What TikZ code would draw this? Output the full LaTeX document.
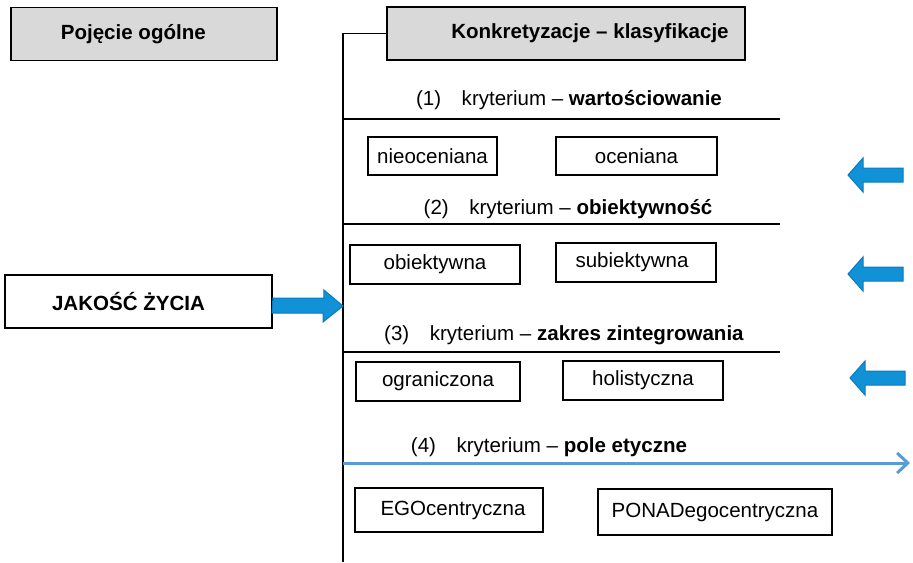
\documentclass[tikz,border=0pt]{standalone}
\usepackage{fontspec}
\setmainfont{Liberation Sans}
\usepackage{xcolor}
\usepackage{tikz}
\usetikzlibrary{calc, arrows.meta}

\definecolor{headgray}{RGB}{217,217,217}
\definecolor{arrowblue}{RGB}{18,146,214}
\definecolor{arrowedge}{RGB}{10,122,192}
\definecolor{lineblue}{RGB}{91,155,213}

\newcommand{\boxfont}{\fontsize{15.4}{18}\selectfont}

\tikzset{
  headbox/.style={draw, fill=headgray, line width=1.4pt, inner sep=0pt, font=\boxfont\bfseries},
  catbox/.style={draw, line width=1.4pt, inner sep=0pt, font=\boxfont},
  crit/.style={inner sep=0.75pt, font=\boxfont},
  rule/.style={line width=1.4pt},
  blockarrow/.style={fill=arrowblue, draw=arrowedge, line width=0.75pt, line join=miter},
  leftarrow/.pic={\path[blockarrow] (0,0) -- (15,-17) -- (15,-7) -- (55,-7) -- (55,7) -- (15,7) -- (15,17) -- cycle;}
}

\begin{document}
\begin{tikzpicture}[x=0.75pt,y=0.75pt,yscale=-1,xscale=1]
\useasboundingbox (0,0) rectangle (913,562);

%Shape: Rectangle (headers)
\node[headbox, minimum width=199.5pt, minimum height=39.75pt] (ogolne) at (144,34) {Pojęcie ogólne\hspace*{16pt}};
\node[headbox, minimum width=268.5pt, minimum height=39.75pt] (konkr) at (566,33.5) {\hspace*{36pt}Konkretyzacje -- klasyfikacje};
%Shape: Rectangle (main notion)
\node[catbox, minimum width=200.25pt, minimum height=39.75pt, font=\boxfont\bfseries] (jakosc) at (138.5,301.5) {JAKOŚĆ ŻYCIA\hspace*{15pt}};

%Straight Lines (spine)
\coordinate (spine end) at (343,562);
\draw[rule] (konkr.west) -| (spine end);
\coordinate (hit) at (343,306);

%Straight Lines (separators)
\coordinate (sep1) at (780,119);
\coordinate (sep2) at (780,224);
\coordinate (sep3) at (780,352);
\draw[rule] (spine end |- sep1) -- (sep1);
\draw[rule] (spine end |- sep2) -- (sep2);
\draw[rule] (spine end |- sep3) -- (sep3);
%Straight Lines (4) with arrow
\coordinate (line4) at (910,463);
\draw[lineblue, line width=2.25pt, -{Straight Barb[length=8pt, width=15pt]}] (spine end |- line4) -- (line4);

% Text Node
\node[crit] (crit1) at (569,100) {(1)\hspace{1em}kryterium -- \textbf{wartościowanie}};
% Text Node
\node[crit] (crit2) at (568,209) {(2)\hspace{1em}kryterium -- \textbf{obiektywność}};
% Text Node
\node[crit] (crit3) at (564,335) {(3)\hspace{1em}kryterium -- \textbf{zakres zintegrowania}};
% Text Node
\node[crit] (crit4) at (549,447) {(4)\hspace{1em}kryterium -- \textbf{pole etyczne}};

%Shape: Rectangle (categories)
\node[catbox, minimum width=96.75pt, minimum height=28.5pt] (nieoc) at (432.5,156) {nieoceniana};
\node[catbox, minimum width=120.75pt, minimum height=28.5pt] (oc) at (636.5,156) {oceniana};
\node[catbox, minimum width=127.5pt, minimum height=29.25pt] (obiekt) at (435,264.5) {obiektywna};
\node[catbox, minimum width=120pt, minimum height=29.25pt] (subiekt) at (636,262.5) {subiektywna\hspace*{6pt}};
\node[catbox, minimum width=123pt, minimum height=29.25pt] (ogran) at (438,381.5) {ograniczona};
\node[catbox, minimum width=120pt, minimum height=29.25pt] (holist) at (643,380.5) {holistyczna};
\node[catbox, minimum width=141pt, minimum height=33pt] (ego) at (449,510) {\hspace*{6pt}EGOcentryczna};
\node[catbox, minimum width=175.5pt, minimum height=34.5pt] (ponad) at (715,512) {PONADegocentryczna};

%Block arrow into the spine
\path[blockarrow] ($(jakosc.east)+(0,-3.5)$) -- ++(51,0) -- ++(0,-8) -- (hit) -- ++(-20,16) -- ++(0,-9) -- ++(-51,0) -- cycle;

%Block arrows on the right
\pic at (848,175) {leftarrow};
\pic at (848,274) {leftarrow};
\pic at (850,378) {leftarrow};

\end{tikzpicture}
\end{document}
